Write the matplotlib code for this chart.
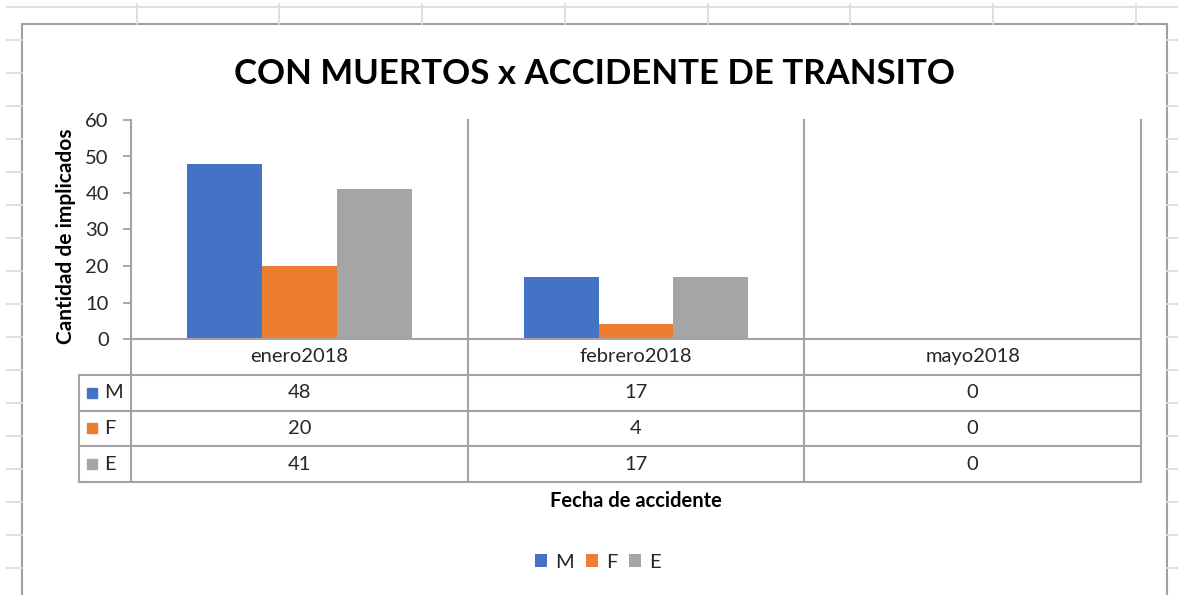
import numpy as np
import matplotlib
matplotlib.use("Agg")
import matplotlib.pyplot as plt
from matplotlib.patches import Rectangle

# datos de la tabla
meses = ["enero2018", "febrero2018", "mayo2018"]
series = ["M", "F", "E"]
valores_m = [48, 17, 0]
valores_f = [20, 4, 0]
valores_e = [41, 17, 0]
colores = ["#4472C4", "#ED7D31", "#A5A5A5"]

titulo = "CON MUERTOS x ACCIDENTE DE TRANSITO"
eje_y = "Cantidad de implicados"
eje_x = "Fecha de accidente"

W, H = 1178, 595
plt.rcParams['font.family'] = ['Lato', 'DejaVu Sans']
texto_c = '#262626'
linea_c = '#a3a3a3'
hoja_c = '#dcdcdc'
fs = 14.5

fig = plt.figure(figsize=(W / 100, H / 100), dpi=100)


def caja(x0, y0, x1, y1):
    # caja en pixeles -> fraccion de figura
    return [x0 / W, 1 - y1 / H, (x1 - x0) / W, (y1 - y0) / H]


# fondo de la hoja de calculo
bg = fig.add_axes([0, 0, 1, 1], zorder=-5)
bg.set_xlim(0, W)
bg.set_ylim(H, 0)
bg.axis('off')
bg.plot([7, W], [7, 7], color=hoja_c, lw=1.3)
for xv in [137, 279, 422, 565, 708, 850, 993, 1136]:
    bg.plot([xv, xv], [4, 24], color=hoja_c, lw=1.3)
for yv in range(40, H, 33):
    bg.plot([7, 22], [yv, yv], color=hoja_c, lw=1.3)
    bg.plot([1167, W], [yv, yv], color=hoja_c, lw=1.3)
bg.add_patch(Rectangle((22, 24), 1145, 640, facecolor='white',
                       edgecolor='#a0a0a0', lw=1.5))

# grafico de barras
ax = fig.add_axes(caja(131, 120, 1141, 339))
x = np.arange(len(meses))
w = 1 / 4.5
for i, (vals, c) in enumerate(zip([valores_m, valores_f, valores_e], colores)):
    ax.bar(x + (i - 1) * w, vals, w, color=c, label=series[i], zorder=3)
ax.set_xlim(-0.5, 2.5)
ax.set_ylim(0, 60)
ax.patch.set_alpha(0)
for s in ['top', 'right', 'bottom']:
    ax.spines[s].set_visible(False)
ax.spines['left'].set_color(linea_c)
ax.spines['left'].set_linewidth(1.5)
ax.set_xticks([])
ax.set_yticks(range(0, 61, 10))
ax.tick_params(axis='y', length=6, width=1.3, color=linea_c, pad=10,
               labelsize=fs, labelcolor=texto_c)
for b in [0.5, 1.5, 2.5]:
    ax.axvline(b, color=linea_c, lw=1.5, clip_on=False)

# tabla de datos bajo el eje
tb = fig.add_axes(caja(131, 339, 1141, 482))
tb.set_xlim(-0.5, 2.5)
tb.set_ylim(4, 0)
tb.axis('off')
u = 1010 / 3  # pixeles por categoria
x_clave = -0.5 - 52 / u
tb.plot([-0.5, 2.5], [0, 0], color=linea_c, lw=1.5, clip_on=False)
for r in range(1, 5):
    tb.plot([x_clave, 2.5], [r, r], color=linea_c, lw=1.5, clip_on=False)
for b in [-0.5, 0.5, 1.5, 2.5]:
    tb.plot([b, b], [0, 4], color=linea_c, lw=1.5, clip_on=False)
tb.plot([x_clave, x_clave], [1, 4], color=linea_c, lw=1.5, clip_on=False)

for i, mes in enumerate(meses):
    tb.text(i, 0.5, mes, ha='center', va='center', fontsize=fs, color=texto_c)
for r, (nombre, vals, c) in enumerate(zip(series, [valores_m, valores_f, valores_e], colores), start=1):
    tb.plot(-0.5 - 39 / u, r + 0.5, marker='s', ms=7.5, color=c, clip_on=False)
    tb.text(-0.5 - 27 / u, r + 0.5, nombre, ha='left', va='center',
            fontsize=fs, color=texto_c)
    for i, v in enumerate(vals):
        tb.text(i, r + 0.5, str(v), ha='center', va='center',
                fontsize=fs, color=texto_c)

# textos
fig.text(595 / W, 1 - 84 / H, titulo, ha='center', va='baseline',
         fontsize=25, weight='bold', color='black')
fig.text(66 / W, 1 - 236 / H, eje_y, ha='center', va='center', rotation=90,
         fontsize=15, weight='bold', color='black')
fig.text(636 / W, 1 - 507 / H, eje_x, ha='center', va='baseline',
         fontsize=fs, weight='bold', color='black')

fig.legend(ncol=3, loc='center', bbox_to_anchor=(598 / W, 1 - 562 / H),
           frameon=False, fontsize=fs, handlelength=0.6, handleheight=0.6,
           handletextpad=0.4, columnspacing=0.6, labelcolor=texto_c)

fig.savefig("out.png", dpi=100)
